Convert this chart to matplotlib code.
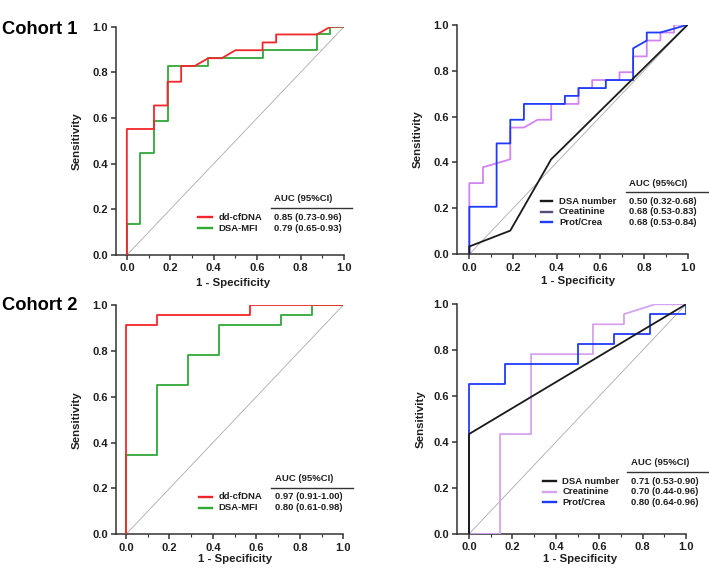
import matplotlib
matplotlib.use('Agg')
import matplotlib.pyplot as plt
from matplotlib.lines import Line2D
from matplotlib.ticker import MultipleLocator

plt.rcParams['font.family'] = ['Liberation Sans', 'DejaVu Sans']
plt.rcParams['font.weight'] = 'bold'

# ---------------- data ----------------
# Cohort 1
c1_dd_x = [0, 0, 0.125, 0.125, 0.1875, 0.1875, 0.25, 0.25, 0.3125, 0.375, 0.4375, 0.5, 0.625, 0.625, 0.6875, 0.6875, 0.875, 0.9375, 1.0]
c1_dd_y = [0, 0.552, 0.552, 0.655, 0.655, 0.759, 0.759, 0.828, 0.828, 0.862, 0.862, 0.897, 0.897, 0.931, 0.931, 0.966, 0.966, 1.0, 1.0]
c1_mfi_x = [0, 0, 0.0625, 0.0625, 0.125, 0.125, 0.1875, 0.1875, 0.375, 0.375, 0.625, 0.625, 0.875, 0.875, 0.9375, 0.9375, 1.0]
c1_mfi_y = [0, 0.138, 0.138, 0.448, 0.448, 0.586, 0.586, 0.828, 0.828, 0.862, 0.862, 0.897, 0.897, 0.966, 0.966, 1.0, 1.0]
c1_num_x = [0, 0, 0.1875, 0.375, 1.0]
c1_num_y = [0, 0.034, 0.103, 0.414, 1.0]
c1_crea_x = [0, 0, 0.0625, 0.0625, 0.1875, 0.1875, 0.25, 0.3125, 0.375, 0.375, 0.5, 0.5, 0.5625, 0.5625,
             0.6875, 0.6875, 0.75, 0.75, 0.8125, 0.8125, 0.875, 0.875, 0.9375, 0.9375, 1.0]
c1_crea_y = [0, 0.310, 0.310, 0.379, 0.414, 0.552, 0.552, 0.586, 0.586, 0.655, 0.655, 0.724, 0.724, 0.759,
             0.759, 0.793, 0.793, 0.862, 0.862, 0.931, 0.931, 0.966, 0.966, 1.0, 1.0]
c1_prot_x = [0, 0, 0.125, 0.125, 0.1875, 0.1875, 0.25, 0.25, 0.4375, 0.4375, 0.5, 0.5, 0.625, 0.625,
             0.75, 0.75, 0.8125, 0.8125, 0.875, 1.0]
c1_prot_y = [0, 0.207, 0.207, 0.483, 0.483, 0.586, 0.586, 0.655, 0.655, 0.690, 0.690, 0.724, 0.724, 0.759,
             0.759, 0.897, 0.931, 0.966, 0.966, 1.0]

# Cohort 2
c2_dd_x = [0, 0, 0.143, 0.143, 0.571, 0.571, 1.0]
c2_dd_y = [0, 0.913, 0.913, 0.957, 0.957, 1.0, 1.0]
c2_mfi_x = [0, 0, 0.143, 0.143, 0.286, 0.286, 0.429, 0.429, 0.714, 0.714, 0.857, 0.857, 1.0]
c2_mfi_y = [0, 0.348, 0.348, 0.652, 0.652, 0.783, 0.783, 0.913, 0.913, 0.957, 0.957, 1.0, 1.0]
c2_num_x = [0, 0, 1.0]
c2_num_y = [0, 0.435, 1.0]
c2_crea_x = [0, 0.143, 0.143, 0.286, 0.286, 0.571, 0.571, 0.714, 0.714, 0.857, 1.0]
c2_crea_y = [0, 0, 0.435, 0.435, 0.783, 0.783, 0.913, 0.913, 0.957, 1.0, 1.0]
c2_prot_x = [0, 0, 0.167, 0.167, 0.5, 0.5, 0.667, 0.667, 0.833, 0.833, 1.0, 1.0]
c2_prot_y = [0, 0.652, 0.652, 0.739, 0.739, 0.826, 0.826, 0.870, 0.870, 0.957, 0.957, 1.0]

labels_left = ['dd-cfDNA', 'DSA-MFI']
labels_right = ['DSA number', 'Creatinine', 'Prot/Crea']
auc_c1_left = ['0.85 (0.73-0.96)', '0.79 (0.65-0.93)']
auc_c1_right = ['0.50 (0.32-0.68)', '0.68 (0.53-0.83)', '0.68 (0.53-0.84)']
auc_c2_left = ['0.97 (0.91-1.00)', '0.80 (0.61-0.98)']
auc_c2_right = ['0.71 (0.53-0.90)', '0.70 (0.44-0.96)', '0.80 (0.64-0.96)']
cohorts = ['Cohort 1', 'Cohort 2']
ticks = [0.0, 0.2, 0.4, 0.6, 0.8, 1.0]

RED = '#F5262A'
GREEN = '#2FA836'
BLUE = '#1E3BFA'
BLACK = '#1a1a1a'
PURPLE1 = '#D383F0'
PURPLE2 = '#D5A3F0'
AX = '#333333'
TXT = '#1e1e1e'
LW = 1.3

W, H = 709, 568
fig = plt.figure(figsize=(W / 100, H / 100), dpi=100)


def fx(px):
    return px / W


def fy(py):
    return 1 - py / H


def setup(ax, xmin, xlab_xy, ylab_xy):
    ax.set_xlim(xmin, 1.0)
    ax.set_ylim(0, 1.0)
    for s in ['top', 'right']:
        ax.spines[s].set_visible(False)
    for s in ['left', 'bottom']:
        ax.spines[s].set_color(AX)
        ax.spines[s].set_linewidth(1.1)
    ax.set_xticks(ticks)
    ax.set_yticks(ticks)
    ax.set_xticklabels([f'{t:.1f}' for t in ticks])
    ax.set_yticklabels([f'{t:.1f}' for t in ticks])
    ax.xaxis.set_minor_locator(MultipleLocator(0.1))
    ax.tick_params(axis='both', which='major', direction='out', length=3.5, width=1.1,
                   color=AX, labelsize=8, pad=2.5, labelcolor=TXT)
    ax.tick_params(axis='x', which='minor', direction='out', length=2, width=0.8, color=AX)
    for lab in ax.get_xticklabels() + ax.get_yticklabels():
        lab.set_fontweight('bold')
    ax.set_xlabel('1 - Specificity', fontsize=8.2, fontweight='bold', color=TXT)
    ax.set_ylabel('Sensitivity', fontsize=8.2, fontweight='bold', color=TXT)
    ax.xaxis.set_label_coords(*xlab_xy)
    ax.yaxis.set_label_coords(*ylab_xy)
    ax.plot([0, 1], [0, 1], color='#AAAAAA', lw=0.6, zorder=1)


def legend(header_xy, line_x, line_y, rows_y, handle_x, label_x, value_x, colors, labels, values):
    fig.text(fx(header_xy[0]), fy(header_xy[1]), 'AUC (95%CI)', fontsize=6.8,
             fontweight='bold', ha='left', va='center', color=TXT)
    fig.add_artist(Line2D([fx(line_x[0]), fx(line_x[1])], [fy(line_y), fy(line_y)],
                          color=AX, lw=1.0, transform=fig.transFigure))
    for ry, c, lab, val in zip(rows_y, colors, labels, values):
        fig.add_artist(Line2D([fx(handle_x[0]), fx(handle_x[1])], [fy(ry), fy(ry)],
                              color=c, lw=1.7, transform=fig.transFigure))
        fig.text(fx(label_x), fy(ry), lab, fontsize=6.8, fontweight='bold',
                 ha='left', va='center', color=TXT)
        fig.text(fx(value_x), fy(ry), val, fontsize=6.8, fontweight='bold',
                 ha='left', va='center', color=TXT)


# Panel 1: cohort 1 left
ax1 = fig.add_axes([0.1636, 0.551, 0.3216, 0.402])
setup(ax1, -0.05, (0.515, -0.10), (-0.15, 0.5))
ax1.plot(c1_mfi_x, c1_mfi_y, color=GREEN, lw=LW, zorder=3)
ax1.plot(c1_dd_x, c1_dd_y, color=RED, lw=LW, zorder=4)
legend((274.3, 199), (270.7, 351.7), 208.3, [217.3, 228.3], (198, 212), 218.3, 274.3,
       [RED, GREEN], labels_left, auc_c1_left)

# Panel 2: cohort 1 right
ax2 = fig.add_axes([0.645, 0.5523, 0.325, 0.4042])
setup(ax2, -0.055, (0.525, -0.095), (-0.149, 0.5))
ax2.plot(c1_crea_x, c1_crea_y, color=PURPLE1, lw=LW, zorder=3)
ax2.plot(c1_prot_x, c1_prot_y, color=BLUE, lw=LW, zorder=4)
ax2.plot(c1_num_x, c1_num_y, color=BLACK, lw=LW, zorder=5)
legend((629.3, 183.3), (626, 709), 192, [201, 211.7, 222.3], (540.7, 552.3), 559, 629,
       [BLACK, '#5B4A7E', BLUE], labels_right, auc_c1_right)

# Panel 3: cohort 2 left
ax3 = fig.add_axes([0.1636, 0.0593, 0.3206, 0.4037])
setup(ax3, -0.046, (0.523, -0.088), (-0.15, 0.5))
ax3.plot(c2_mfi_x, c2_mfi_y, color=GREEN, lw=LW, zorder=3)
ax3.plot(c2_dd_x, c2_dd_y, color=RED, lw=LW, zorder=4)
legend((275, 478.3), (270.7, 353.3), 487.7, [496.7, 507.7], (199, 212), 218.3, 275,
       [RED, GREEN], labels_left, auc_c2_left)

# Panel 4: cohort 2 right
ax4 = fig.add_axes([0.645, 0.0599, 0.3226, 0.4044])
setup(ax4, -0.054, (0.537, -0.089), (-0.138, 0.5))
ax4.plot(c2_crea_x, c2_crea_y, color=PURPLE2, lw=LW, zorder=3)
ax4.plot(c2_prot_x, c2_prot_y, color=BLUE, lw=LW, zorder=4)
ax4.plot(c2_num_x, c2_num_y, color=BLACK, lw=LW, zorder=5)
legend((630.7, 462.7), (627.3, 709), 472, [481, 491.7, 502.3], (543.3, 555.7), 562.3, 630.7,
       [BLACK, PURPLE2, BLUE], labels_right, auc_c2_right)

# Cohort titles
fig.text(fx(2), fy(29), cohorts[0], fontsize=13.2, fontweight='bold', ha='left', va='center', color='black')
fig.text(fx(2), fy(306), cohorts[1], fontsize=13.2, fontweight='bold', ha='left', va='center', color='black')

fig.savefig('out.png', dpi=100, facecolor='white')
